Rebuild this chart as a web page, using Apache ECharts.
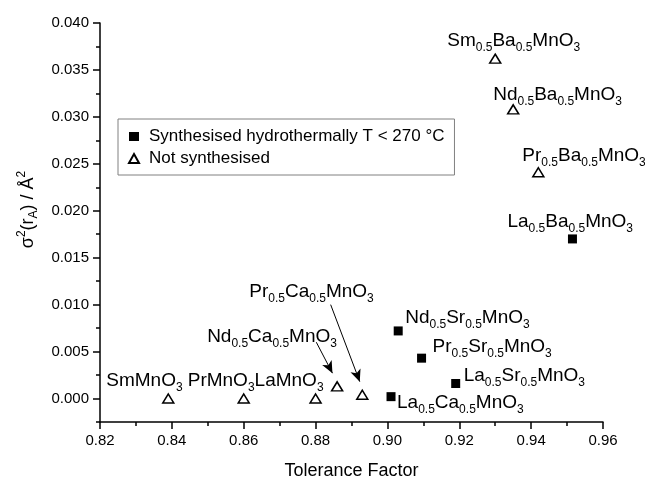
<!DOCTYPE html>
<html>
<head>
<meta charset="utf-8">
<script src="https://cdn.jsdelivr.net/npm/echarts@6/dist/echarts.min.js"></script>
<style>
  html, body { margin: 0; padding: 0; background: #fff; }
  #chart { width: 645px; height: 485px; }
</style>
</head>
<body>
<div id="chart"></div>
<script>
  // synthesised hydrothermally (filled squares)
  var synthNames = ['La0.5Ca0.5MnO3', 'Nd0.5Sr0.5MnO3', 'Pr0.5Sr0.5MnO3', 'La0.5Sr0.5MnO3', 'La0.5Ba0.5MnO3'];
  var synthTolerance = [0.901, 0.903, 0.9095, 0.919, 0.9515];
  var synthVariance = [0.0002, 0.0072, 0.0043, 0.0016, 0.0170];

  // not synthesised (open triangles)
  var notNames = ['SmMnO3', 'PrMnO3', 'LaMnO3', 'Nd0.5Ca0.5MnO3', 'Pr0.5Ca0.5MnO3',
    'Sm0.5Ba0.5MnO3', 'Nd0.5Ba0.5MnO3', 'Pr0.5Ba0.5MnO3'];
  var notTolerance = [0.839, 0.860, 0.880, 0.886, 0.893, 0.930, 0.935, 0.942];
  var notVariance = [0.0000, 0.0000, 0.0000, 0.0013, 0.0004, 0.0362, 0.0308, 0.0241];

  // tick values
  var yMajorTicks = [0, 0.005, 0.010, 0.015, 0.020, 0.025, 0.030, 0.035, 0.040];
  var yMinorTicks = [-0.0025, 0.0025, 0.0075, 0.0125, 0.0175, 0.0225, 0.0275, 0.0325, 0.0375];

  // arrows pointing at the two Ca compounds (data units)
  var arrowStart = [[0.8802, 0.0060], [0.8842, 0.0100]];
  var arrowEnd = [[0.8847, 0.0027], [0.8923, 0.0018]];

  // label placement, px from point (left edge, middle)
  var synthLabelOffset = [[6, 6], [7, -13], [11, -11], [8, -8], [-65, -17]];
  var notLabelOffset = [[-62, -18], [-56, -18], [-61, -18], [-130, -50], [-113, -103],
    [-48, -18], [-20, -15], [-16, -17]];

  var font = "'Liberation Sans', Arial, sans-serif";

  //化学式转富文本：数字作下标
  function formula(name) {
    return '{n|' + name.replace(/(\d+(\.\d+)?)/g, '}{s|$1}{n|') + '}';
  }

  var labelRich = {
    n: {fontSize: 19, color: '#000', fontFamily: font},
    s: {fontSize: 12, color: '#000', fontFamily: font, padding: [14, 0, 0, 0]}
  };

  function buildData(names, xs, ys, offsets) {
    return names.map(function (name, i) {
      return {
        name: name,
        value: [xs[i], ys[i]],
        label: {offset: offsets[i]}
      };
    });
  }

  var chart = echarts.init(document.getElementById('chart'));
  chart.setOption({
    animation: false,
    grid: {left: 100, right: 42, top: 23, bottom: 58},
    legend: {
      orient: 'vertical',
      left: 118,
      top: 119,
      padding: [9, 10, 8, 10],
      borderColor: '#808080',
      borderWidth: 1,
      backgroundColor: '#fff',
      itemWidth: 10,
      itemHeight: 9,
      itemGap: 5,
      textStyle: {fontSize: 17, color: '#000', fontFamily: font, padding: [0, 0, 0, 5]},
      data: ['Synthesised hydrothermally T < 270 °C', 'Not synthesised']
    },
    xAxis: {
      type: 'value',
      min: 0.82,
      max: 0.96,
      interval: 0.02,
      name: 'Tolerance Factor',
      nameLocation: 'middle',
      nameGap: 40,
      nameTextStyle: {fontSize: 18, color: '#000', fontFamily: font},
      axisLine: {onZero: false, lineStyle: {color: '#000', width: 1.5}},
      axisTick: {length: 7, lineStyle: {color: '#000', width: 1.5}},
      minorTick: {show: true, splitNumber: 2, length: 4, lineStyle: {color: '#000', width: 1.5}},
      axisLabel: {
        fontSize: 15, color: '#000', fontFamily: font, margin: 11,
        formatter: function (v) { return v.toFixed(2); }
      },
      splitLine: {show: false}
    },
    yAxis: [
      {
        type: 'value',
        min: -0.0025,
        max: 0.04,
        name: '{n|σ}{sup|2}{n|(r}{sub|A}{n|) / Å}{sup|2}',
        nameLocation: 'middle',
        nameGap: 60,
        nameRotate: 90,
        nameTextStyle: {
          padding: [0, 0, 0, 26],
          rich: {
            n: {fontSize: 18, color: '#000', fontFamily: font},
            sup: {fontSize: 12, color: '#000', fontFamily: font, padding: [0, 0, 12, 0]},
            sub: {fontSize: 12, color: '#000', fontFamily: font, padding: [12, 0, 0, 0]}
          }
        },
        axisLine: {show: true, onZero: false, lineStyle: {color: '#000', width: 1.5}},
        axisTick: {show: true, length: 7, customValues: yMajorTicks, lineStyle: {color: '#000', width: 1.5}},
        axisLabel: {
          fontSize: 15, color: '#000', fontFamily: font, margin: 11,
          customValues: yMajorTicks,
          formatter: function (v) { return v.toFixed(3); }
        },
        splitLine: {show: false}
      },
      {
        type: 'value',
        position: 'left',
        min: -0.0025,
        max: 0.04,
        axisLine: {show: false, onZero: false},
        axisTick: {show: true, length: 4, customValues: yMinorTicks, lineStyle: {color: '#000', width: 1.5}},
        axisLabel: {show: false},
        splitLine: {show: false}
      }
    ],
    series: [
      {
        name: 'Synthesised hydrothermally T < 270 °C',
        type: 'scatter',
        symbol: 'rect',
        symbolSize: 9,
        itemStyle: {color: '#000', opacity: 1},
        label: {
          show: true, position: 'inside', align: 'left', verticalAlign: 'middle',
          formatter: function (p) { return formula(p.name); },
          rich: labelRich
        },
        emphasis: {disabled: true},
        data: buildData(synthNames, synthTolerance, synthVariance, synthLabelOffset)
      },
      {
        name: 'Not synthesised',
        type: 'scatter',
        symbol: 'triangle',
        symbolSize: [11, 9],
        itemStyle: {color: '#fff', borderColor: '#000', borderWidth: 1.5, opacity: 1},
        label: {
          show: true, position: 'inside', align: 'left', verticalAlign: 'middle',
          formatter: function (p) { return formula(p.name); },
          rich: labelRich
        },
        emphasis: {disabled: true},
        markLine: {
          silent: true,
          symbol: ['none', 'arrow'],
          symbolSize: [8, 12],
          label: {show: false},
          lineStyle: {color: '#000', width: 1, type: 'solid', opacity: 1},
          emphasis: {disabled: true},
          data: arrowStart.map(function (s, i) {
            return [{coord: s}, {coord: arrowEnd[i]}];
          })
        },
        data: buildData(notNames, notTolerance, notVariance, notLabelOffset)
      }
    ]
  });
</script>
</body>
</html>
